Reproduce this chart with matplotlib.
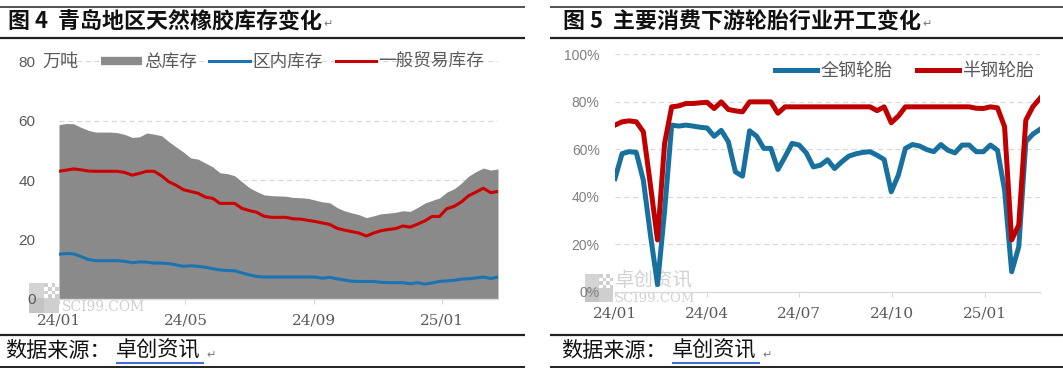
import matplotlib
matplotlib.use("Agg")
import matplotlib.pyplot as plt
import matplotlib.dates as mdates
from matplotlib.lines import Line2D
from matplotlib.patches import Rectangle
from matplotlib.text import Annotation
import pandas as pd

plt.rcParams['font.family'] = ['Noto Sans CJK SC', 'DejaVu Sans']

# ---------------- data ----------------
dates = pd.date_range('2024-01-01', periods=61, freq='7D')

total_stock = [58.7, 59.1, 59.0, 57.8, 56.8, 56.2, 56.2, 56.2, 56.0, 55.4,
               54.4, 54.6, 55.9, 55.5, 55.0, 53.0, 51.2, 49.5, 47.5, 47.1,
               45.8, 44.5, 42.5, 42.2, 41.5, 39.5, 37.5, 36.2, 35.1, 34.8,
               34.7, 34.6, 34.2, 34.1, 33.9, 33.3, 32.7, 32.4, 30.8, 29.7,
               29.0, 28.4, 27.4, 28.0, 28.7, 28.9, 29.2, 29.7, 29.5, 30.8,
               32.3, 33.2, 34.0, 36.0, 37.1, 39.0, 41.4, 42.9, 44.1, 43.4, 43.8]
general_trade = [43.0, 43.4, 43.8, 43.5, 43.1, 43.0, 43.0, 43.0, 43.0, 42.6,
                 41.7, 42.3, 43.0, 43.0, 41.5, 39.5, 38.3, 36.8, 36.2, 35.6,
                 34.3, 33.9, 32.2, 32.2, 32.2, 30.5, 29.8, 29.2, 27.9, 27.5,
                 27.5, 27.5, 27.0, 26.9, 26.5, 26.1, 25.6, 25.1, 23.8, 23.2,
                 22.7, 22.2, 21.2, 22.2, 23.0, 23.4, 23.7, 24.6, 24.2, 25.2,
                 26.3, 27.8, 27.8, 30.4, 31.2, 32.7, 34.8, 36.0, 37.3, 35.8, 36.2]
bonded = [15.1, 15.3, 15.2, 14.3, 13.3, 12.9, 12.9, 12.9, 12.9, 12.7,
          12.2, 12.5, 12.4, 12.1, 12.1, 11.9, 11.5, 11.0, 11.2, 11.0,
          10.7, 10.2, 9.8, 9.6, 9.5, 8.8, 8.1, 7.6, 7.4, 7.4,
          7.4, 7.4, 7.4, 7.4, 7.4, 7.4, 7.0, 7.3, 6.8, 6.4,
          6.0, 5.9, 5.9, 5.9, 5.6, 5.5, 5.5, 5.5, 5.1, 5.5,
          5.0, 5.4, 5.9, 6.1, 6.3, 6.7, 6.8, 7.1, 7.4, 6.9, 7.4]

all_steel = [47.7, 58.2, 59.0, 58.7, 47.0, 24.0, 3.0, 34.0, 70.2, 69.8,
             70.2, 69.8, 69.3, 69.0, 65.5, 68.0, 63.2, 50.5, 48.7, 67.8,
             65.5, 60.4, 60.4, 51.5, 56.8, 62.5, 61.8, 58.5, 52.6, 53.3,
             55.6, 51.9, 54.7, 57.1, 58.1, 58.7, 59.0, 57.5, 55.7, 42.1,
             49.1, 60.4, 62.0, 61.4, 59.9, 59.0, 62.0, 59.6, 58.5, 61.8,
             61.8, 59.0, 59.0, 61.8, 59.6, 42.8, 8.4, 18.9, 63.2, 66.4, 68.4]
semi_steel = [70.2, 71.6, 72.0, 71.6, 67.4, 45.0, 21.8, 62.5, 77.9, 78.3,
              79.3, 79.3, 79.6, 79.8, 77.2, 80.0, 76.8, 76.2, 75.8, 80.0,
              80.0, 80.0, 80.0, 75.2, 77.9, 77.9, 77.9, 77.9, 77.9, 77.9,
              77.9, 77.9, 77.9, 77.9, 77.9, 77.9, 77.9, 76.3, 77.9, 71.2,
              74.0, 77.9, 77.9, 77.9, 77.9, 77.9, 77.9, 77.9, 77.9, 77.9,
              77.9, 77.3, 77.2, 77.9, 77.5, 69.5, 21.8, 28.1, 72.3, 78.0, 81.5]

left_ticks = ['2024-01-01', '2024-05-01', '2024-09-01', '2025-01-01']
right_ticks = ['2024-01-01', '2024-04-01', '2024-07-01', '2024-10-01', '2025-01-01']

# ---------------- figure ----------------
W, H = 1063, 372
fig = plt.figure(figsize=(W / 100, H / 100), dpi=100)
fig.patch.set_facecolor('white')


def P(x, y):
    return x / W, 1 - y / H


def hline(x0, x1, y, lw, color='#222222'):
    (a, b), (c, d) = P(x0, y), P(x1, y)
    fig.add_artist(Line2D([a, c], [b, d], transform=fig.transFigure,
                          color=color, lw=lw, solid_capstyle='butt'))


# rules
for x0, x1 in [(0, 525), (550, 1063)]:
    hline(x0, x1, 7, 1.1)
    hline(x0, x1, 37.5, 1.6)
    hline(x0, x1, 335, 1.6)
    hline(x0, x1, 366.5, 1.4)

# titles
t1 = fig.text(*P(8, 22), '图 4  青岛地区天然橡胶库存变化', fontsize=15.8, fontweight='bold',
              va='center', ha='left', color='#111111')
t2 = fig.text(*P(563, 22), '图 5  主要消费下游轮胎行业开工变化', fontsize=15.8, fontweight='bold',
              va='center', ha='left', color='#111111')
for t in (t1, t2):
    a = Annotation('↵', xy=(1, 0.2), xycoords=t, xytext=(1, 0), textcoords='offset points',
                   fontsize=8, color='#777777', va='bottom', ha='left', family=['DejaVu Sans'],
                   annotation_clip=False)
    fig.add_artist(a)

# source lines
for x0 in (5, 561):
    fig.text(*P(x0, 351), '数据来源：', fontsize=15.2, va='center', ha='left', color='#111111')
    fig.text(*P(x0 + 111, 351), '卓创资讯', fontsize=15.2, va='center', ha='left', color='#111111')
    hline(x0 + 111, x0 + 199, 363, 1.5, color='#3f6fd0')
    fig.text(*P(x0 + 201, 355), '↵', fontsize=8, va='center', ha='left', color='#777777',
             family=['DejaVu Sans'])


# watermark logos
def logo(x, y, s):
    g = s / 2
    cols = [('#d4d4d4', 0, 0), ('#c4c4c4', 0, g), ('#cfcfcf', g, g)]
    for c, dx, dy in cols:
        a, b = P(x + dx, y + dy + g)
        fig.add_artist(Rectangle((a, b), g / W, g / H, transform=fig.transFigure,
                                 facecolor=c, edgecolor='none', zorder=-2))
    n = 4
    for i in range(n):
        for j in range(n):
            if (i + j) % 2 == 0:
                a, b = P(x + g + i * g / n, y + (j + 1) * g / n)
                fig.add_artist(Rectangle((a, b), g / n / W, g / n / H, transform=fig.transFigure,
                                         facecolor='#cfcfcf', edgecolor='none', zorder=-2))


logo(29, 283, 30)
logo(585, 274, 28)
fig.text(*P(62, 307), 'SCI99.COM', fontsize=10, family='DejaVu Serif', color='#cfcfcf',
         va='center', ha='left', zorder=-1)
fig.text(*P(615, 280), '卓创资讯', fontsize=14, color='#d2d2d2', va='center', ha='left', zorder=-1)
fig.text(*P(615, 298), 'SCI99.COM', fontsize=9.5, family='DejaVu Serif', color='#d2d2d2',
         va='center', ha='left', zorder=-1)

# ---------------- left chart ----------------
axL = fig.add_axes([59 / W, (H - 299) / H, (498 - 59) / W, (299 - 61.4) / H])
axL.patch.set_alpha(0)
axL.fill_between(dates, 0, total_stock, color='#8a8a8a', lw=0, zorder=2)
axL.plot(dates, bonded, color='#1a73b3', lw=2.2, zorder=3)
axL.plot(dates, general_trade, color='#cc0000', lw=2.2, zorder=3)
axL.set_xlim(dates[0], dates[-1])
axL.set_ylim(0, 80)
axL.set_yticks([0, 20, 40, 60, 80])
axL.set_axisbelow(True)
axL.yaxis.grid(True, color='#d9d9d9', ls=(0, (4, 3)), lw=0.9)
axL.set_xticks(pd.to_datetime(left_ticks))
axL.xaxis.set_major_formatter(mdates.DateFormatter('%y/%m'))

# ---------------- right chart ----------------
axR = fig.add_axes([615 / W, (H - 291.7) / H, (1040 - 615) / W, (291.7 - 54.4) / H])
axR.patch.set_alpha(0)
axR.plot(dates, all_steel, color='#18709f', lw=3.6, zorder=3, solid_joinstyle='round')
axR.plot(dates, semi_steel, color='#c00000', lw=3.6, zorder=3, solid_joinstyle='round')
axR.set_xlim(dates[0], dates[-1])
axR.set_ylim(0, 100)
axR.set_yticks([0, 20, 40, 60, 80, 100])
axR.set_yticklabels([f'{v}%' for v in [0, 20, 40, 60, 80, 100]])
axR.set_axisbelow(True)
axR.yaxis.grid(True, color='#d9d9d9', ls=(0, (4, 3)), lw=0.9)
axR.set_xticks(pd.to_datetime(right_ticks))
axR.xaxis.set_major_formatter(mdates.DateFormatter('%y/%m'))

for ax, ypad, ycol, ysize in [(axL, 17, '#595959', 11), (axR, 11, '#808080', 10)]:
    for sp in ['top', 'right', 'left']:
        ax.spines[sp].set_visible(False)
    ax.spines['bottom'].set_color('#d9d9d9')
    ax.spines['bottom'].set_linewidth(1.0)
    ax.tick_params(axis='y', length=0, pad=ypad, labelsize=ysize, labelcolor=ycol)
    ax.tick_params(axis='x', length=3.5, color='#d9d9d9', pad=7, labelsize=11, labelcolor='#595959')
    for lab in ax.get_yticklabels():
        lab.set_family(['Liberation Sans'])
    for lab in ax.get_xticklabels():
        lab.set_family(['DejaVu Serif'])
    ax.yaxis.get_gridlines()[0].set_visible(False)

# left unit + legend
fig.text(*P(42, 62), '万吨', fontsize=13, color='#595959', va='center', ha='left')
hL = [Line2D([], [], color='#8a8a8a', lw=6, solid_capstyle='butt'),
      Line2D([], [], color='#1a73b3', lw=2.2),
      Line2D([], [], color='#cc0000', lw=2.2)]
legL = fig.legend(hL, ['总库存', '区内库存', '一般贸易库存'], loc='center left',
                  bbox_to_anchor=P(101, 62), ncol=3, frameon=False, fontsize=12.7,
                  handlelength=2.3, handletextpad=0.15, columnspacing=0.7, borderpad=0,
                  borderaxespad=0, labelcolor='#595959')

hR = [Line2D([], [], color='#18709f', lw=3.6), Line2D([], [], color='#c00000', lw=3.6)]
legR = fig.legend(hR, ['全钢轮胎', '半钢轮胎'], loc='center left',
                  bbox_to_anchor=P(775, 71), ncol=2, frameon=False, fontsize=13,
                  handlelength=2.35, handletextpad=0.15, columnspacing=1.35, borderpad=0,
                  borderaxespad=0, labelcolor='#595959')

fig.savefig('out.png', dpi=100)
